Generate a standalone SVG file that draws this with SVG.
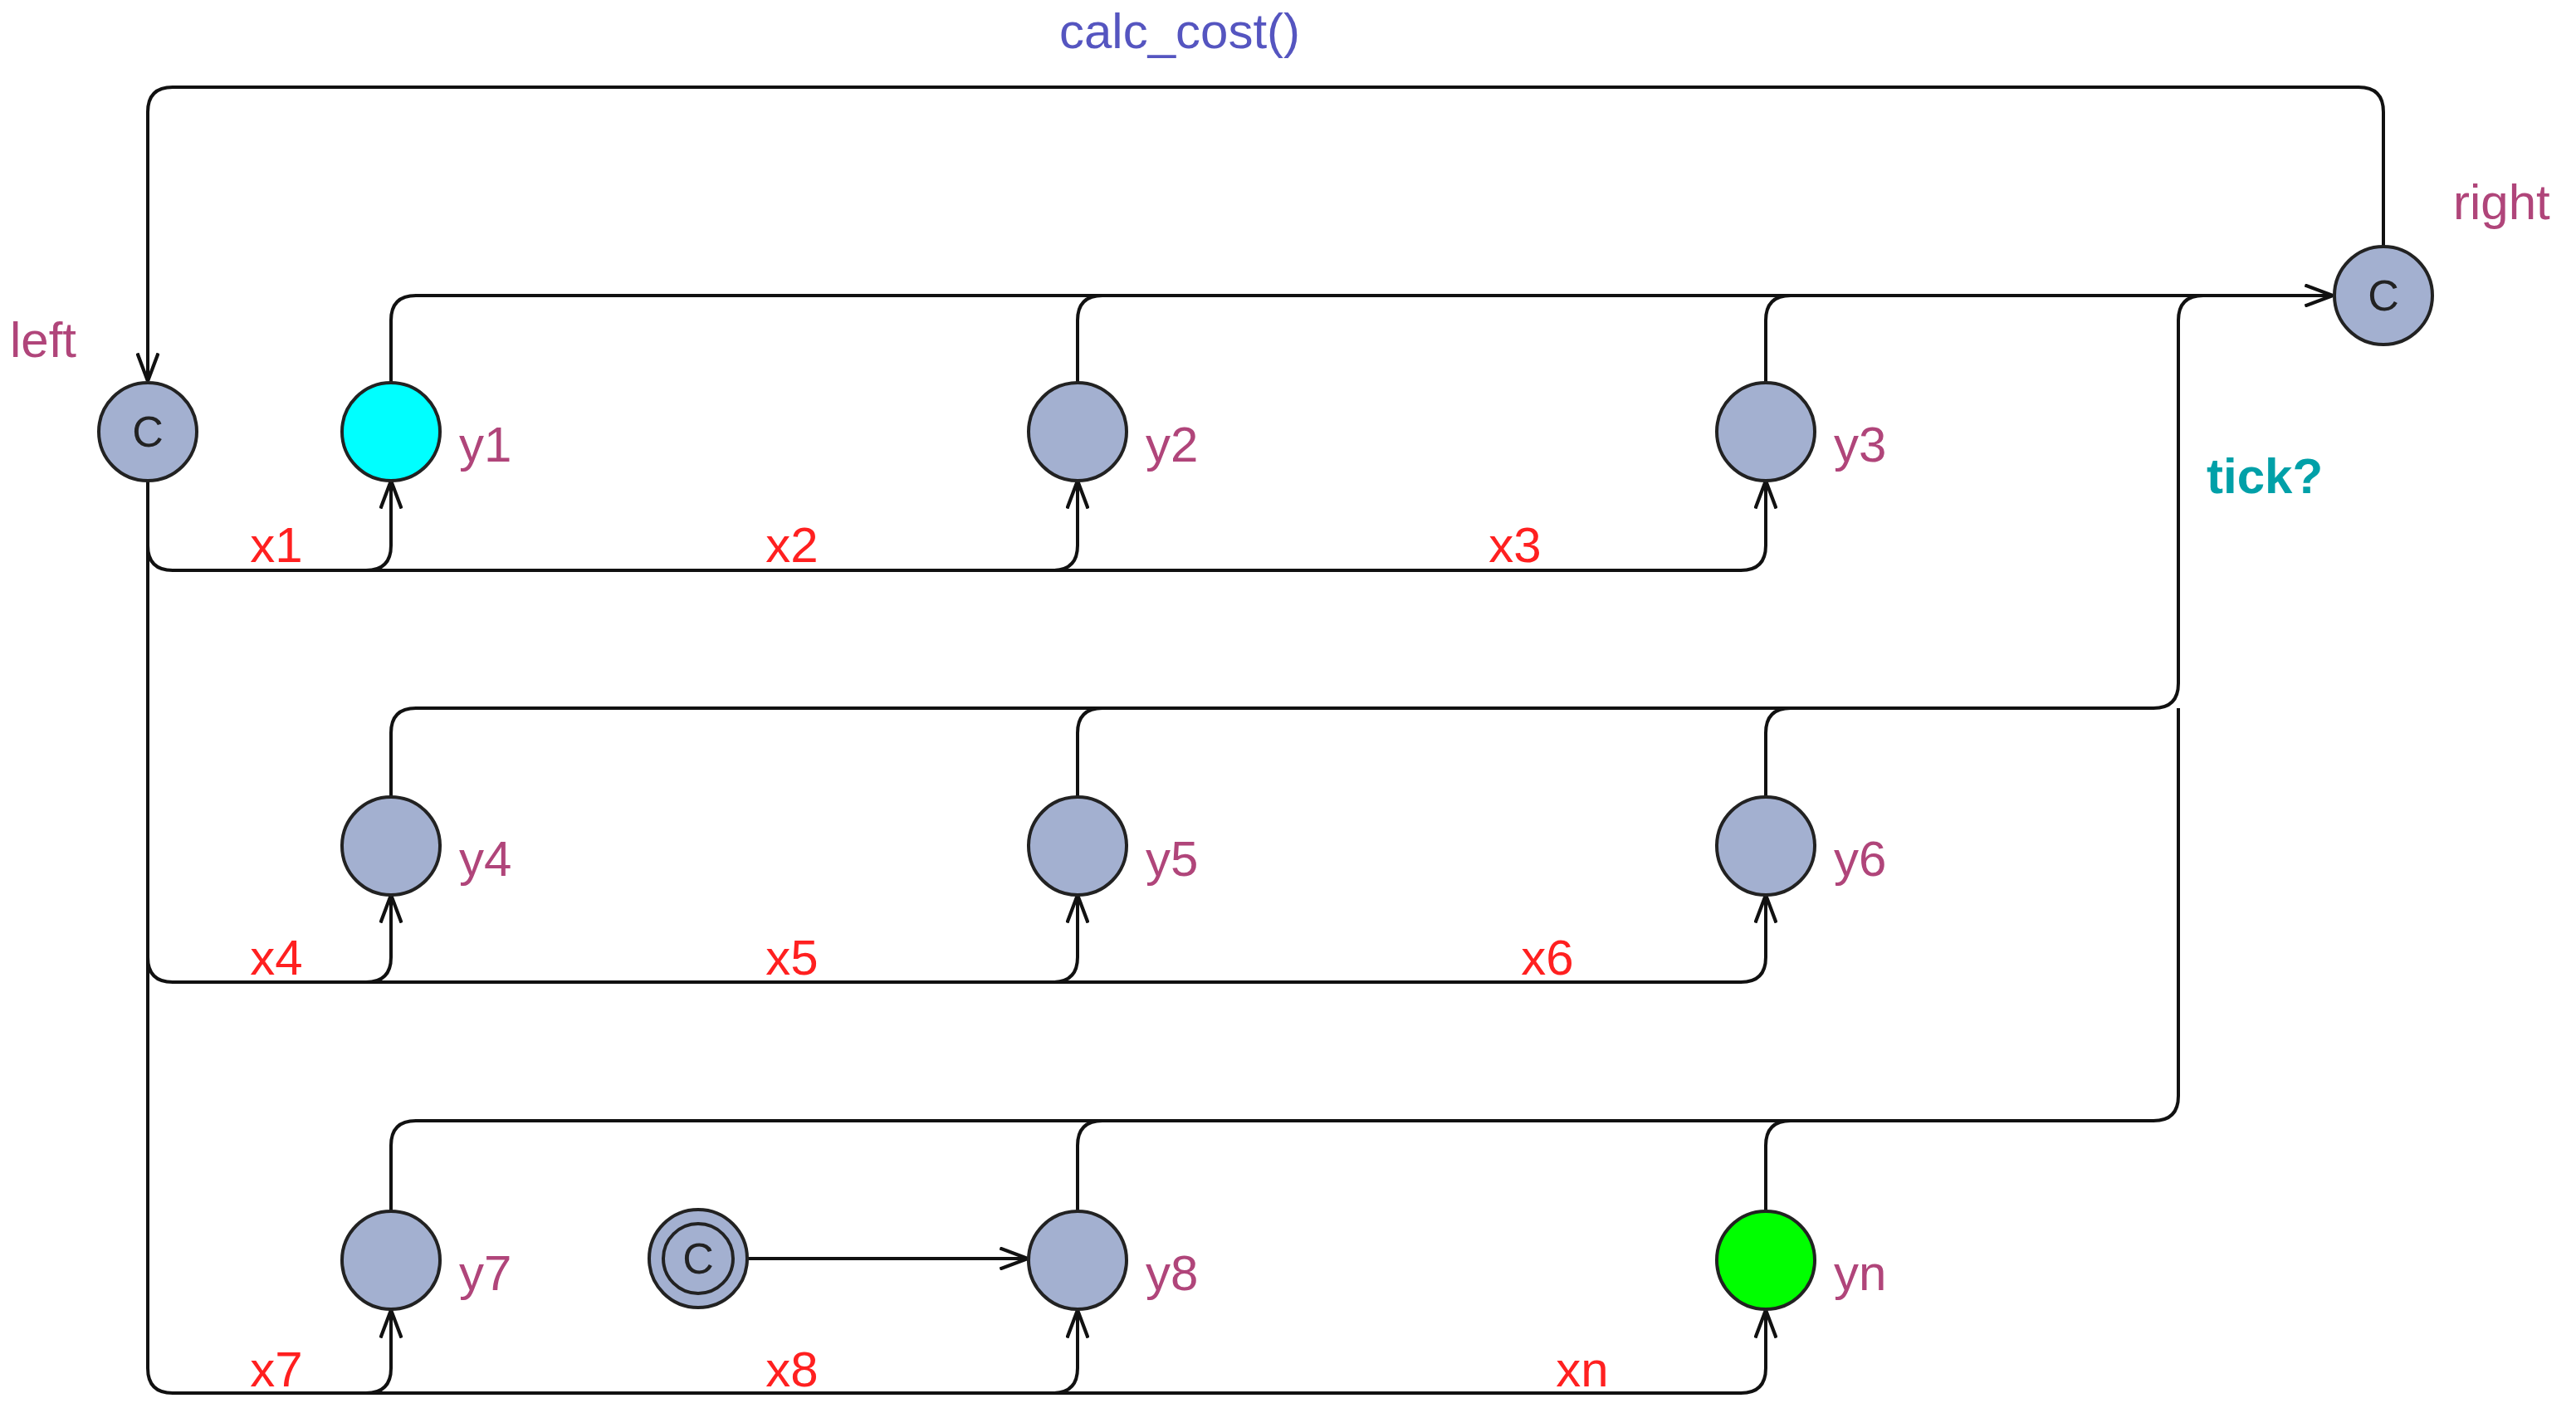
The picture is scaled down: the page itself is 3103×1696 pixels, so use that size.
<svg xmlns="http://www.w3.org/2000/svg" width="3103" height="1696" viewBox="0 0 3103 1696">
<style>
.n{fill:#a3b0d0;stroke:#222;stroke-width:4}
.e{fill:none;stroke:#111;stroke-width:4}
.c{font-family:"Liberation Sans",Arial,sans-serif;font-size:52px;fill:#222;text-anchor:middle}
.nl{font-family:"Liberation Sans",Arial,sans-serif;font-size:60px;fill:#b0457a}
.xl{font-family:"Liberation Sans",Arial,sans-serif;font-size:60px;fill:#ff2020;text-anchor:middle}
</style>
<defs>
<marker id="a" viewBox="0 0 12 10" refX="12" refY="5" markerWidth="34" markerHeight="28" markerUnits="userSpaceOnUse" orient="auto">
<path d="M0,0.5 L12,5 L0,9.5" fill="none" stroke="#111" stroke-width="1.5"/>
</marker>
</defs>
<g id="edges">
<path class="e" d="M2871 296 V135 Q2871 105 2841 105 H208 Q178 105 178 135 V459" marker-end="url(#a)"/>
<path class="e" d="M471 461 V386 Q471 356 501 356 H2810" marker-end="url(#a)"/>
<path class="e" d="M1298 461 V386 Q1298 356 1328 356"/>
<path class="e" d="M2127 461 V386 Q2127 356 2157 356"/>
<path class="e" d="M471 960 V883 Q471 853 501 853 H2594 Q2624 853 2624 823 V386 Q2624 356 2654 356"/>
<path class="e" d="M1298 960 V883 Q1298 853 1328 853"/>
<path class="e" d="M2127 960 V883 Q2127 853 2157 853"/>
<path class="e" d="M471 1459 V1380 Q471 1350 501 1350 H2594 Q2624 1350 2624 1320 V853"/>
<path class="e" d="M1298 1459 V1380 Q1298 1350 1328 1350"/>
<path class="e" d="M2127 1459 V1380 Q2127 1350 2157 1350"/>
<path class="e" d="M178 579 V1648 Q178 1678 208 1678 H2097 Q2127 1678 2127 1648 V1578" marker-end="url(#a)"/>
<path class="e" d="M178 657 Q178 687 208 687 H2097 Q2127 687 2127 657 V579" marker-end="url(#a)"/>
<path class="e" d="M441 687 Q471 687 471 657 V579" marker-end="url(#a)"/>
<path class="e" d="M1268 687 Q1298 687 1298 657 V579" marker-end="url(#a)"/>
<path class="e" d="M178 1153 Q178 1183 208 1183 H2097 Q2127 1183 2127 1153 V1078" marker-end="url(#a)"/>
<path class="e" d="M441 1183 Q471 1183 471 1153 V1078" marker-end="url(#a)"/>
<path class="e" d="M1268 1183 Q1298 1183 1298 1153 V1078" marker-end="url(#a)"/>
<path class="e" d="M441 1678 Q471 1678 471 1648 V1578" marker-end="url(#a)"/>
<path class="e" d="M1268 1678 Q1298 1678 1298 1648 V1578" marker-end="url(#a)"/>
<path class="e" d="M900 1516 H1238" marker-end="url(#a)"/>
<text x="1421" y="58" font-family="Liberation Sans,Arial,sans-serif" font-size="60" fill="#5555c0" text-anchor="middle">calc_cost()</text>
<text x="2658" y="594" font-family="Liberation Sans,Arial,sans-serif" font-size="60" font-weight="bold" fill="#00a0a8">tick?</text>
<text class="xl" x="333" y="677">x1</text>
<text class="xl" x="954" y="677">x2</text>
<text class="xl" x="1825" y="677">x3</text>
<text class="xl" x="333" y="1174">x4</text>
<text class="xl" x="954" y="1174">x5</text>
<text class="xl" x="1864" y="1174">x6</text>
<text class="xl" x="333" y="1670">x7</text>
<text class="xl" x="954" y="1670">x8</text>
<text class="xl" x="1906" y="1670">xn</text>
</g>
<g id="left"><circle class="n" cx="178" cy="520" r="59"/><text class="c" x="178" y="538">C</text><text class="nl" x="12" y="430">left</text></g>
<g id="right"><circle class="n" cx="2871" cy="356" r="59"/><text class="c" x="2871" y="374">C</text><text class="nl" x="2955" y="264">right</text></g>
<g id="y1"><circle class="n" style="fill:#00ffff" cx="471" cy="520" r="59"/><text class="nl" x="553" y="556">y1</text></g>
<g id="y2"><circle class="n" cx="1298" cy="520" r="59"/><text class="nl" x="1380" y="556">y2</text></g>
<g id="y3"><circle class="n" cx="2127" cy="520" r="59"/><text class="nl" x="2209" y="556">y3</text></g>
<g id="y4"><circle class="n" cx="471" cy="1019" r="59"/><text class="nl" x="553" y="1055">y4</text></g>
<g id="y5"><circle class="n" cx="1298" cy="1019" r="59"/><text class="nl" x="1380" y="1055">y5</text></g>
<g id="y6"><circle class="n" cx="2127" cy="1019" r="59"/><text class="nl" x="2209" y="1055">y6</text></g>
<g id="y7"><circle class="n" cx="471" cy="1518" r="59"/><text class="nl" x="553" y="1554">y7</text></g>
<g id="y8"><circle class="n" cx="1298" cy="1518" r="59"/><text class="nl" x="1380" y="1554">y8</text></g>
<g id="yn"><circle class="n" style="fill:#00ff00" cx="2127" cy="1518" r="59"/><text class="nl" x="2209" y="1554">yn</text></g>
<g id="init"><circle class="n" cx="841" cy="1516" r="59"/><circle class="n" cx="841" cy="1516" r="42"/><text class="c" x="841" y="1534">C</text></g>
</svg>
